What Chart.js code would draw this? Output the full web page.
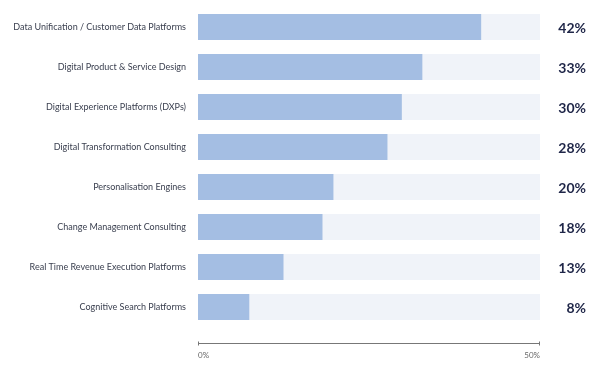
<!DOCTYPE html>
<html>
<head>
<meta charset="utf-8">
<script src="https://cdn.jsdelivr.net/npm/chart.js@4.4.1/dist/chart.umd.min.js"></script>
<style>
  html, body { margin: 0; padding: 0; background: #fff; }
  #wrap { width: 595px; height: 367px; }
</style>
</head>
<body>
<div id="wrap"><canvas id="chart"></canvas></div>
<script>
// chart data
const categories = [
  'Data Unification / Customer Data Platforms',
  'Digital Product & Service Design',
  'Digital Experience Platforms (DXPs)',
  'Digital Transformation Consulting',
  'Personalisation Engines',
  'Change Management Consulting',
  'Real Time Revenue Execution Platforms',
  'Cognitive Search Platforms'
];
// bar lengths as drawn, and the rounded labels shown on the right
const shares = [41.4, 32.8, 29.8, 27.7, 19.8, 18.2, 12.5, 7.5];
const shareLabels = ['42%', '33%', '30%', '28%', '20%', '18%', '13%', '8%'];
const trackMax = [50, 50, 50, 50, 50, 50, 50, 50];
const xTicks = [0, 50];

// value labels on the right + axis line below the bars
const extras = {
  id: 'extras',
  afterDraw(chart) {
    const ctx = chart.ctx;
    const x = chart.scales.x, y = chart.scales.y;
    ctx.save();
    ctx.fillStyle = '#1f2648';
    ctx.font = 'bold 14px Lato';
    ctx.textAlign = 'right';
    ctx.textBaseline = 'middle';
    shareLabels.forEach((t, i) => {
      ctx.fillText(t, 586, y.getPixelForValue(i) + 1);
    });
    // axis line
    const ly = chart.chartArea.bottom + 16.5;
    const x0 = x.getPixelForValue(xTicks[0]), x1 = x.getPixelForValue(xTicks[1]);
    ctx.strokeStyle = '#777';
    ctx.lineWidth = 1;
    ctx.beginPath();
    ctx.moveTo(x0, ly); ctx.lineTo(x1, ly);
    ctx.moveTo(x0 + 0.5, ly - 2); ctx.lineTo(x0 + 0.5, ly + 2);
    ctx.moveTo(x1 - 0.5, ly - 2); ctx.lineTo(x1 - 0.5, ly + 2);
    ctx.stroke();
    ctx.restore();
  }
};

new Chart(document.getElementById('chart'), {
  type: 'bar',
  data: {
    labels: categories,
    datasets: [
      {
        data: shares,
        backgroundColor: '#a4bee3',
        order: 1,
        barPercentage: 0.65,
        categoryPercentage: 1
      },
      {
        data: trackMax,
        backgroundColor: '#f0f3f9',
        order: 2,
        barPercentage: 0.65,
        categoryPercentage: 1
      }
    ]
  },
  options: {
    indexAxis: 'y',
    responsive: true,
    maintainAspectRatio: false,
    animation: false,
    layout: { padding: { top: 7, right: 55, left: 0, bottom: 0 } },
    plugins: { legend: { display: false }, tooltip: { enabled: false } },
    datasets: { bar: { grouped: false } },
    scales: {
      x: {
        min: 0, max: 50,
        afterBuildTicks(s) { s.ticks = xTicks.map(v => ({ value: v })); },
        afterFit(s) { s.height = 40; s.paddingLeft = 0; s.paddingRight = 0; },
        grid: { display: false, drawTicks: false },
        border: { display: false },
        ticks: {
          align: 'inner',
          padding: 24,
          color: '#666',
          font: { family: 'Lato', size: 8 },
          callback: v => v + '%'
        }
      },
      y: {
        afterFit(s) { s.width = 198; s.paddingTop = 0; s.paddingBottom = 0; },
        grid: { display: false, drawTicks: false },
        border: { display: false },
        ticks: {
          padding: 12,
          color: '#3b4050',
          font: { family: 'Lato', size: 9 }
        }
      }
    }
  },
  plugins: [extras]
});
</script>
</body>
</html>
